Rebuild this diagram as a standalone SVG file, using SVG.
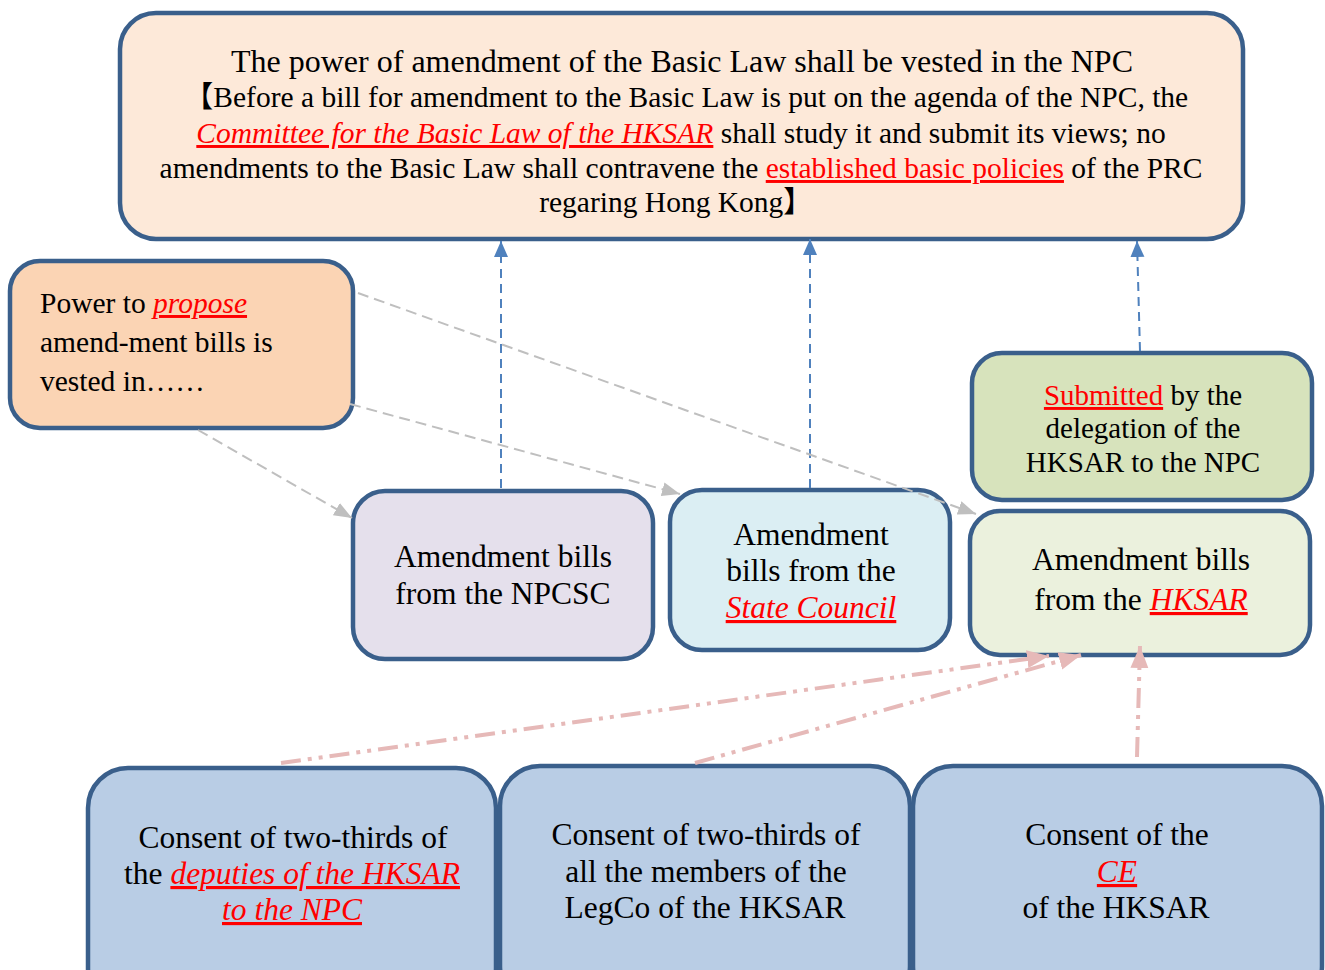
<svg xmlns="http://www.w3.org/2000/svg" width="1325" height="970" viewBox="0 0 1325 970">
<style>
.box{stroke:#3A5F8B;stroke-width:4.5}
.t{font-family:"Liberation Serif","Times New Roman","Noto Sans CJK SC",serif;fill:#000}
.c{text-anchor:middle}
.red{fill:#FF0000;text-decoration:underline}
.it{font-style:italic}
.blue{stroke:#4F81BD;stroke-width:2;stroke-dasharray:9 6;fill:none}
.gray{stroke:#BFBFBF;stroke-width:2;stroke-dasharray:11 6;fill:none}
.pink{stroke:#E6B9B8;stroke-width:4;stroke-dasharray:20 7 4 7 4 7;fill:none}
</style>
<defs>
<marker id="ab" markerUnits="userSpaceOnUse" markerWidth="16" markerHeight="16" refX="16" refY="8" orient="auto"><path d="M0,1 L16,8 L0,15 z" fill="#4F81BD"/></marker>
<marker id="ag" markerUnits="userSpaceOnUse" markerWidth="18" markerHeight="16" refX="18" refY="8" orient="auto"><path d="M0,1 L18,8 L0,15 z" fill="#BFBFBF"/></marker>
<marker id="ap" markerUnits="userSpaceOnUse" markerWidth="22" markerHeight="20" refX="22" refY="10" orient="auto"><path d="M0,1 L22,10 L0,19 z" fill="#E6B9B8"/></marker>
</defs>
<rect width="1325" height="970" fill="#FFFFFF"/>

<g id="node-npc">
<rect class="box" x="120" y="13" width="1123" height="226" rx="36" fill="#FDE9D9"/>
<text class="t c" x="682" y="72" font-size="32">The power of amendment of the Basic Law shall be vested in the NPC</text>
<text class="t c" x="686" y="107" font-size="29.5">【Before a bill for amendment to the Basic Law is put on the agenda of the NPC, the</text>
<text class="t c" x="681" y="143" font-size="29.5"><tspan class="red it">Committee for the Basic Law of the HKSAR</tspan> shall study it and submit its views; no</text>
<text class="t c" x="681" y="178" font-size="29.5">amendments to the Basic Law shall contravene the <tspan class="red">established basic policies</tspan> of the PRC</text>
<text class="t c" x="676" y="212" font-size="29.5">regaring Hong Kong】</text>
</g>

<g id="node-propose">
<rect class="box" x="10" y="261" width="343" height="167" rx="30" fill="#FBD4B4"/>
<text class="t" x="40" y="313" font-size="29.5">Power to <tspan class="red it">propose</tspan></text>
<text class="t" x="40" y="352" font-size="29.5">amend-ment bills is</text>
<text class="t" x="40" y="391" font-size="29.5">vested in……</text>
</g>

<g id="node-npcsc">
<rect class="box" x="353" y="491" width="300" height="168" rx="32" fill="#E5E0EC"/>
<text class="t c" x="503" y="567" font-size="31.5">Amendment bills</text>
<text class="t c" x="503" y="604" font-size="31.5">from the NPCSC</text>
</g>

<g id="node-statecouncil">
<rect class="box" x="670" y="490" width="280" height="160" rx="32" fill="#DBEEF3"/>
<text class="t c" x="811" y="545" font-size="31.5">Amendment</text>
<text class="t c" x="811" y="581" font-size="31.5">bills from the</text>
<text class="t c" x="811" y="618" font-size="31.5"><tspan class="red it">State Council</tspan></text>
</g>

<g id="node-submitted">
<rect class="box" x="972" y="353" width="340" height="147" rx="30" fill="#D7E3BC"/>
<text class="t c" x="1143" y="405" font-size="29"><tspan class="red">Submitted</tspan> by the</text>
<text class="t c" x="1143" y="438" font-size="29">delegation of the</text>
<text class="t c" x="1143" y="472" font-size="29">HKSAR to the NPC</text>
</g>

<g id="node-hksar">
<rect class="box" x="970" y="511" width="340" height="144" rx="30" fill="#EBF1DD"/>
<text class="t c" x="1141" y="570" font-size="31.5">Amendment bills</text>
<text class="t c" x="1141" y="610" font-size="31.5">from the <tspan class="red it">HKSAR</tspan></text>
</g>

<g id="node-deputies">
<rect class="box" x="88" y="768" width="408" height="240" rx="40" fill="#B9CDE5"/>
<text class="t c" x="293" y="848" font-size="31.5">Consent of two-thirds of</text>
<text class="t c" x="292" y="884" font-size="31.5">the <tspan class="red it">deputies of the HKSAR</tspan></text>
<text class="t c" x="292" y="920" font-size="31.5"><tspan class="red it">to the NPC</tspan></text>
</g>

<g id="node-legco">
<rect class="box" x="500" y="766" width="410" height="240" rx="40" fill="#B9CDE5"/>
<text class="t c" x="706" y="845" font-size="31.5">Consent of two-thirds of</text>
<text class="t c" x="706" y="882" font-size="31.5">all the members of the</text>
<text class="t c" x="705" y="918" font-size="31.5">LegCo of the HKSAR</text>
</g>

<g id="node-ce">
<rect class="box" x="913" y="766" width="409" height="240" rx="40" fill="#B9CDE5"/>
<text class="t c" x="1117" y="845" font-size="31.5">Consent of the</text>
<text class="t c" x="1117" y="882" font-size="31.5"><tspan class="red it">CE</tspan></text>
<text class="t c" x="1116" y="918" font-size="31.5">of the HKSAR</text>
</g>

<g id="connectors">
<line class="blue" x1="501" y1="488" x2="501" y2="241" marker-end="url(#ab)"/>
<line class="blue" x1="810" y1="488" x2="810" y2="239" marker-end="url(#ab)"/>
<line class="blue" x1="1140" y1="351" x2="1137" y2="241" marker-end="url(#ab)"/>
<line class="gray" x1="198" y1="430" x2="352" y2="518" marker-end="url(#ag)"/>
<line class="gray" x1="350" y1="404" x2="680" y2="494" marker-end="url(#ag)"/>
<line class="gray" x1="358" y1="293" x2="976" y2="514" marker-end="url(#ag)"/>
<line class="pink" x1="281" y1="763" x2="1049" y2="656" marker-end="url(#ap)"/>
<line class="pink" x1="695" y1="763" x2="1081" y2="655" marker-end="url(#ap)"/>
<line class="pink" x1="1137" y1="757" x2="1140" y2="646" marker-end="url(#ap)"/>
</g>
</svg>
